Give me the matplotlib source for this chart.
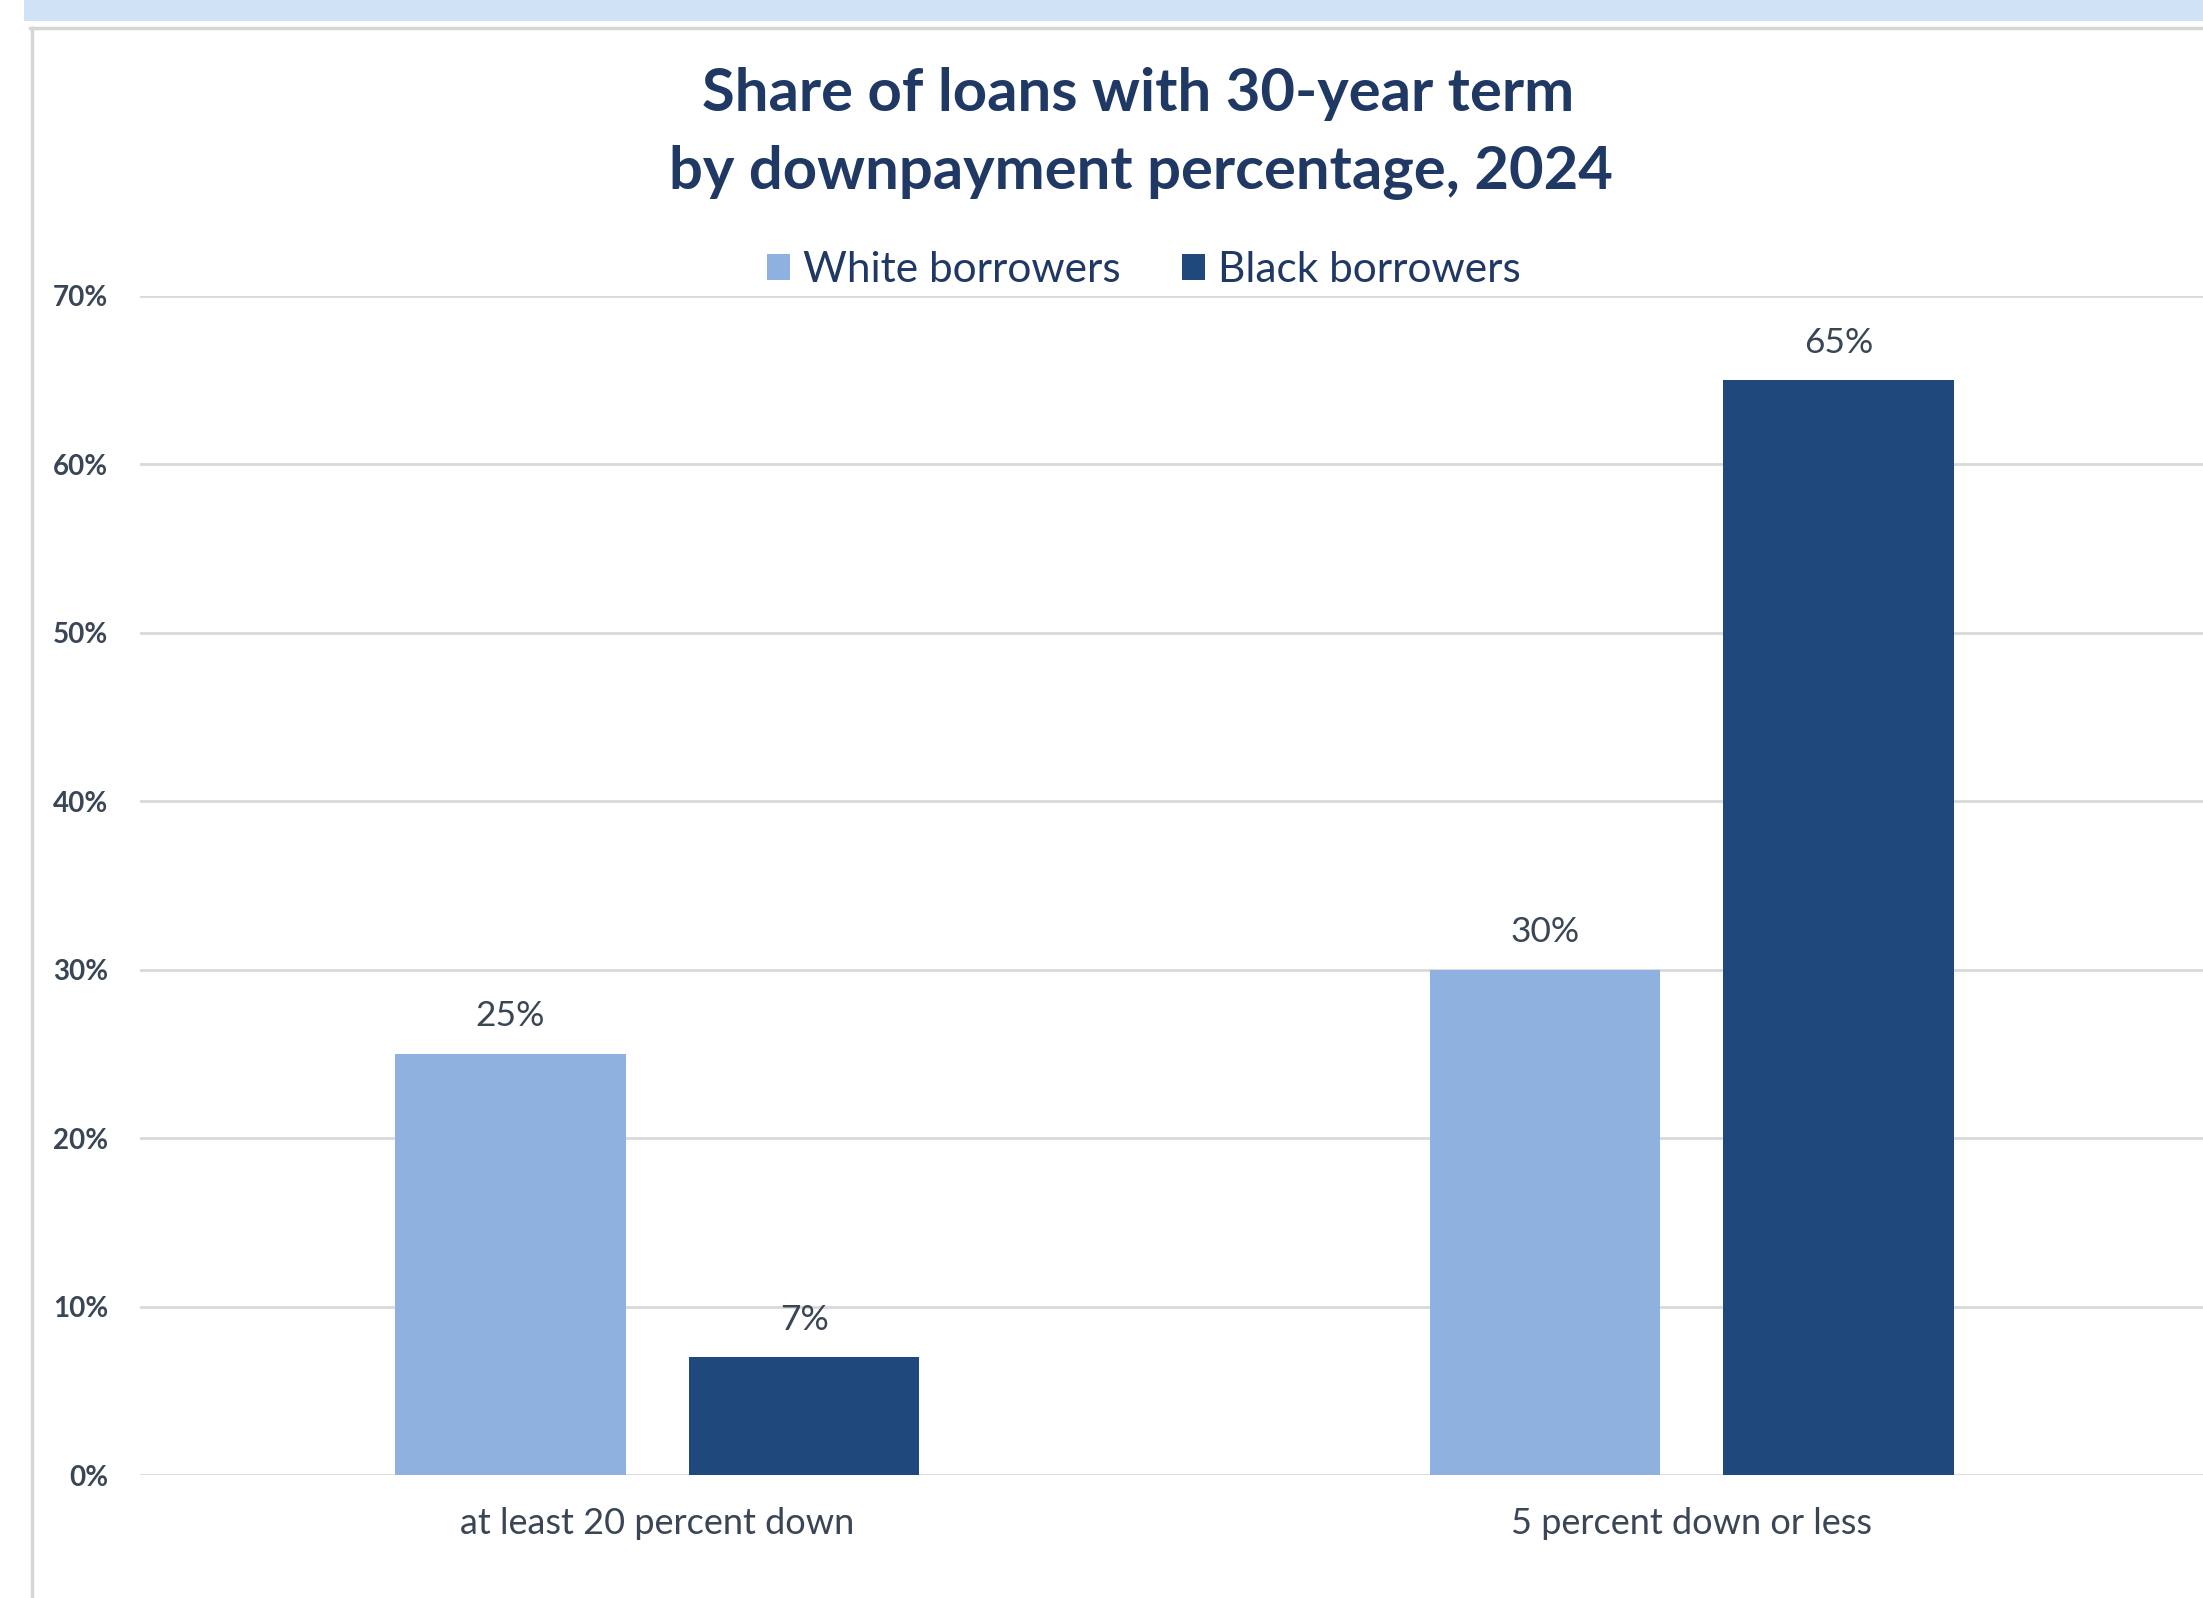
import matplotlib
matplotlib.use("Agg")
import matplotlib.pyplot as plt
from matplotlib.patches import Rectangle
from matplotlib.lines import Line2D
import numpy as np

plt.rcParams["font.family"] = ["Lato", "DejaVu Sans"]

categories = ["at least 20 percent down", "5 percent down or less"]
series_names = ["White borrowers", "Black borrowers"]
white_share = [25, 30]
black_share = [7, 65]
y_ticks = [0, 10, 20, 30, 40, 50, 60, 70]

WHITE_COL = "#8eb1e0"
BLACK_COL = "#1f497d"
TITLE_COL = "#1f3864"
TEXT_COL = "#3a4656"
GRID_COL = "#d9d9d9"

W, H = 2203, 1598
fig = plt.figure(figsize=(W / 100, H / 100), dpi=100)
fig.patch.set_facecolor("white")

# page chrome: pale blue band on top, grey frame edges of the chart box
fig.add_artist(Rectangle((24 / W, 1 - 21 / H), 1, 21 / H, transform=fig.transFigure,
                         facecolor="#cfe2f6", edgecolor="none"))
fig.add_artist(Line2D([30 / W, 1], [1 - 28 / H, 1 - 28 / H], transform=fig.transFigure,
                      color="#d6d6d6", lw=2.5))
fig.add_artist(Line2D([32 / W, 32 / W], [0, 1 - 28 / H], transform=fig.transFigure,
                      color="#d6d6d6", lw=2.5))

left, right, y0, y70 = 140, 2209, 1475, 296
ax = fig.add_axes([left / W, 1 - y0 / H, (right - left) / W, (y0 - y70) / H])
ax.set_facecolor("none")

x = np.arange(len(categories))
bw = 0.223
off = 0.142
b1 = ax.bar(x - off, white_share, bw, color=WHITE_COL, label=series_names[0], zorder=3)
b2 = ax.bar(x + off, black_share, bw, color=BLACK_COL, label=series_names[1], zorder=3)

for bars, vals in [(b1, white_share), (b2, black_share)]:
    for r, v in zip(bars, vals):
        ax.annotate(f"{v}%", (r.get_x() + r.get_width() / 2, v), xytext=(0, 27),
                    textcoords="offset points", ha="center", va="center",
                    fontsize=25.5, color=TEXT_COL)

ax.set_xlim(-0.5, 1.5)
ax.set_ylim(0, 70)
ax.set_yticks(y_ticks)
ax.set_yticklabels([f"{t}%" for t in y_ticks], fontsize=20, color=TEXT_COL, fontweight="bold")
ax.set_xticks(x)
ax.set_xticklabels(categories, fontsize=26, color=TEXT_COL)
ax.tick_params(axis="y", length=0, pad=23)
ax.tick_params(axis="x", length=0, pad=23)
ax.grid(axis="y", color=GRID_COL, lw=2, zorder=0)
for s in ax.spines.values():
    s.set_visible(False)

fig.text(1138 / W, 1 - 94 / H, "Share of loans with 30-year term", ha="center", va="center",
         fontsize=43, fontweight="bold", color=TITLE_COL)
fig.text(1141 / W, 1 - 173 / H, "by downpayment percentage, 2024", ha="center", va="center",
         fontsize=43, fontweight="bold", color=TITLE_COL)

fig.legend(handles=[b1, b2], loc="center", bbox_to_anchor=(1144 / W, 1 - 270 / H), ncol=2,
           frameon=False, fontsize=30.5, labelcolor=TITLE_COL, handlelength=0.55,
           handleheight=0.55, handletextpad=0.3, columnspacing=1.45)

fig.savefig("out.png", dpi=100)
